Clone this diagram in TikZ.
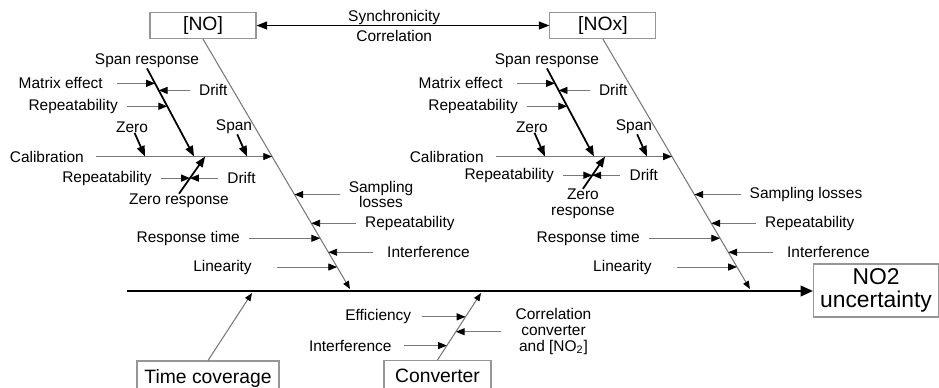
\documentclass[tikz,border=0pt]{standalone}
\usepackage{fontspec}
\setmainfont{Liberation Sans}
\usetikzlibrary{arrows.meta,positioning}
\definecolor{bonegray}{RGB}{120,120,120}
\definecolor{boxgray}{RGB}{150,150,150}

\begin{document}
\begin{tikzpicture}[x=0.02cm, y=-0.02cm,
    font=\fontsize{8.8}{9}\selectfont,
    catbox/.style={draw=boxgray, line width=0.6pt, inner sep=0pt,
      font=\fontsize{11}{13}\selectfont},
    lbl/.style={inner sep=0pt, align=center},
    bone/.style={draw=bonegray, line width=0.6pt,
      -{Triangle[length=4.5pt, width=3.5pt, color=black]}},
    cause/.style={draw=bonegray, line width=0.5pt, shorten <=5pt,
      -{Triangle[length=5pt, width=4pt, color=black]}},
    major/.style={line width=1pt, -{Triangle[length=6pt, width=4.5pt]}},
    spine/.style={line width=1.2pt, -{Triangle[length=7pt, width=6pt]}}]
  \useasboundingbox (0,0) rectangle (939,387);

  % [NO] fish
  \node[catbox, minimum width=2.12cm, minimum height=0.52cm] (no) at (203,25.5) {[NO]};
  \coordinate (noend) at (350,289);
  \draw[bone] (no.south) -- (noend)
    coordinate[pos=.470] (nocal) coordinate[pos=.622] (nob1)
    coordinate[pos=.737] (nob2) coordinate[pos=.797] (nob3)
    coordinate[pos=.853] (nob4) coordinate[pos=.912] (nob5);
  \node[lbl, left=3.76cm of nocal] (nocalib) {Calibration};
  \draw[cause, shorten <=7pt] (nocalib) -- (nocal)
    coordinate[pos=.324] (noc1) coordinate[pos=.585] (noc2)
    coordinate[pos=.644] (noc3) coordinate[pos=.867] (noc4);
  \node[lbl] (nospr) at (147,61) {Span response};
  \draw[major] (nospr.south) -- (noc2)
    coordinate[pos=.17] (nosr1) coordinate[pos=.25] (nosr2) coordinate[pos=.43] (nosr3);
  \node[lbl, left=1.04cm of nosr1] (nomat) {Matrix effect};
  \draw[cause, shorten <=8pt] (nomat) -- (nosr1);
  \node[lbl, right=0.8cm of nosr2] (nodr1) {Drift};
  \draw[cause] (nodr1) -- (nosr2);
  \node[lbl, left=0.98cm of nosr3] (norep1) {Repeatability};
  \draw[cause] (norep1) -- (nosr3);
  \node[lbl] (nozero) at (132,127) {Zero};
  \draw[major] (nozero) -- (noc1);
  \node[lbl] (nospan) at (234,127) {Span};
  \draw[major] (nospan) -- (noc4);
  \node[lbl] (nozr) at (179,201) {Zero response};
  \draw[major] (nozr.north) -- (noc3) coordinate[pos=.42] (nozr1);
  \node[lbl, left=0.76cm of nozr1] (norep2) {Repeatability};
  \draw[cause] (norep2) -- (nozr1);
  \node[lbl, right=0.74cm of nozr1] (nodr2) {Drift};
  \draw[cause] (nodr2) -- (nozr1);
  \node[lbl, right=1.08cm of nob1] (nosamp) {Sampling\\losses};
  \draw[cause] (nosamp) -- (nob1);
  \node[lbl, right=1.07cm of nob2] (norep3) {Repeatability};
  \draw[cause] (norep3) -- (nob2);
  \node[lbl, left=1.6cm of nob3] (noresp) {Response time};
  \draw[cause] (noresp) -- (nob3);
  \node[lbl, right=1.17cm of nob4] (noint) {Interference};
  \draw[cause, shorten <=8pt] (noint) -- (nob4);
  \node[lbl, left=1.7cm of nob5] (nolin) {Linearity};
  \draw[cause, shorten <=14pt] (nolin) -- (nob5);

  % [NOx] fish
  \begin{scope}[xshift=8cm]
    \node[catbox, minimum width=2.12cm, minimum height=0.52cm] (nox) at (203,25.5) {[NOx]};
    \coordinate (noxend) at (350,289);
    \draw[bone] (nox.south) -- (noxend)
      coordinate[pos=.470] (nxcal) coordinate[pos=.622] (nxb1)
      coordinate[pos=.737] (nxb2) coordinate[pos=.797] (nxb3)
      coordinate[pos=.853] (nxb4) coordinate[pos=.912] (nxb5);
    \node[lbl, left=3.76cm of nxcal] (nxcalib) {Calibration};
    \draw[cause, shorten <=7pt] (nxcalib) -- (nxcal)
      coordinate[pos=.324] (nxc1) coordinate[pos=.585] (nxc2)
      coordinate[pos=.644] (nxc3) coordinate[pos=.867] (nxc4);
    \node[lbl] (nxspr) at (147,61) {Span response};
    \draw[major] (nxspr.south) -- (nxc2)
      coordinate[pos=.17] (nxsr1) coordinate[pos=.25] (nxsr2) coordinate[pos=.43] (nxsr3);
    \node[lbl, left=1.04cm of nxsr1] (nxmat) {Matrix effect};
    \draw[cause, shorten <=8pt] (nxmat) -- (nxsr1);
    \node[lbl, right=0.8cm of nxsr2] (nxdr1) {Drift};
    \draw[cause] (nxdr1) -- (nxsr2);
    \node[lbl, left=0.98cm of nxsr3] (nxrep1) {Repeatability};
    \draw[cause] (nxrep1) -- (nxsr3);
    \node[lbl] (nxzero) at (132,127) {Zero};
    \draw[major] (nxzero) -- (nxc1);
    \node[lbl] (nxspan) at (234,127) {Span};
    \draw[major] (nxspan) -- (nxc4);
    \node[lbl] (nxzr) at (183,204) {Zero\\response};
    \draw[major] (nxzr.north) -- (nxc3) coordinate[pos=.42] (nxzr1);
    \node[lbl, left=0.76cm of nxzr1] (nxrep2) {Repeatability};
    \draw[cause] (nxrep2) -- (nxzr1);
    \node[lbl, right=0.74cm of nxzr1] (nxdr2) {Drift};
    \draw[cause] (nxdr2) -- (nxzr1);
    \node[lbl, right=1.1cm of nxb1] (nxsamp) {Sampling losses};
    \draw[cause] (nxsamp) -- (nxb1);
    \node[lbl, right=1.07cm of nxb2] (nxrep3) {Repeatability};
    \draw[cause] (nxrep3) -- (nxb2);
    \node[lbl, left=1.6cm of nxb3] (nxresp) {Response time};
    \draw[cause] (nxresp) -- (nxb3);
    \node[lbl, right=1.17cm of nxb4] (nxint) {Interference};
    \draw[cause, shorten <=8pt] (nxint) -- (nxb4);
    \node[lbl, left=1.7cm of nxb5] (nxlin) {Linearity};
    \draw[cause, shorten <=14pt] (nxlin) -- (nxb5);
  \end{scope}

  % link between the two analysers
  \draw[line width=0.7pt, {Triangle[length=6pt, width=4.5pt]}-{Triangle[length=6pt, width=4.5pt]}]
    (no) -- (nox)
    node[lbl, pos=.47, above=0pt] (sync) {Synchronicity}
    node[lbl, pos=.47, below=2.5pt] (corr) {Correlation};

  % spine
  \node[catbox, minimum width=2.5cm, minimum height=1.06cm, align=center,
        font=\fontsize{13}{13.5}\selectfont] (no2) at (876,290.5) {NO2\\uncertainty};
  \coordinate (tail) at (127,291);
  \draw[spine] (tail) -- (tail -| no2.west);

  % lower bones
  \node[catbox, minimum width=2.84cm, minimum height=0.68cm] (tc) at (208,378) {Time coverage};
  \coordinate (tcend) at (252,293);
  \draw[bone] (tc.north) -- (tcend);
  \node[catbox, minimum width=2.14cm, minimum height=0.62cm] (conv) at (437.5,376) {Converter};
  \coordinate (convend) at (481,293);
  \draw[bone] (conv.north) -- (convend)
    coordinate[pos=.215] (cv1) coordinate[pos=.422] (cv2) coordinate[pos=.644] (cv3);
  \node[lbl, left=1.08cm of cv3] (cveff) {Efficiency};
  \draw[cause, shorten <=6pt] (cveff) -- (cv3);
  \node[lbl, left=1.1cm of cv1] (cvint) {Interference};
  \draw[cause, shorten <=7pt] (cvint) -- (cv1);
  \node[lbl, right=1.19cm of cv2] (cvcor) {Correlation\\converter\\and [NO\textsubscript{2}]};
  \draw[cause, shorten <=8pt] (cvcor) -- (cv2);
\end{tikzpicture}
\end{document}
